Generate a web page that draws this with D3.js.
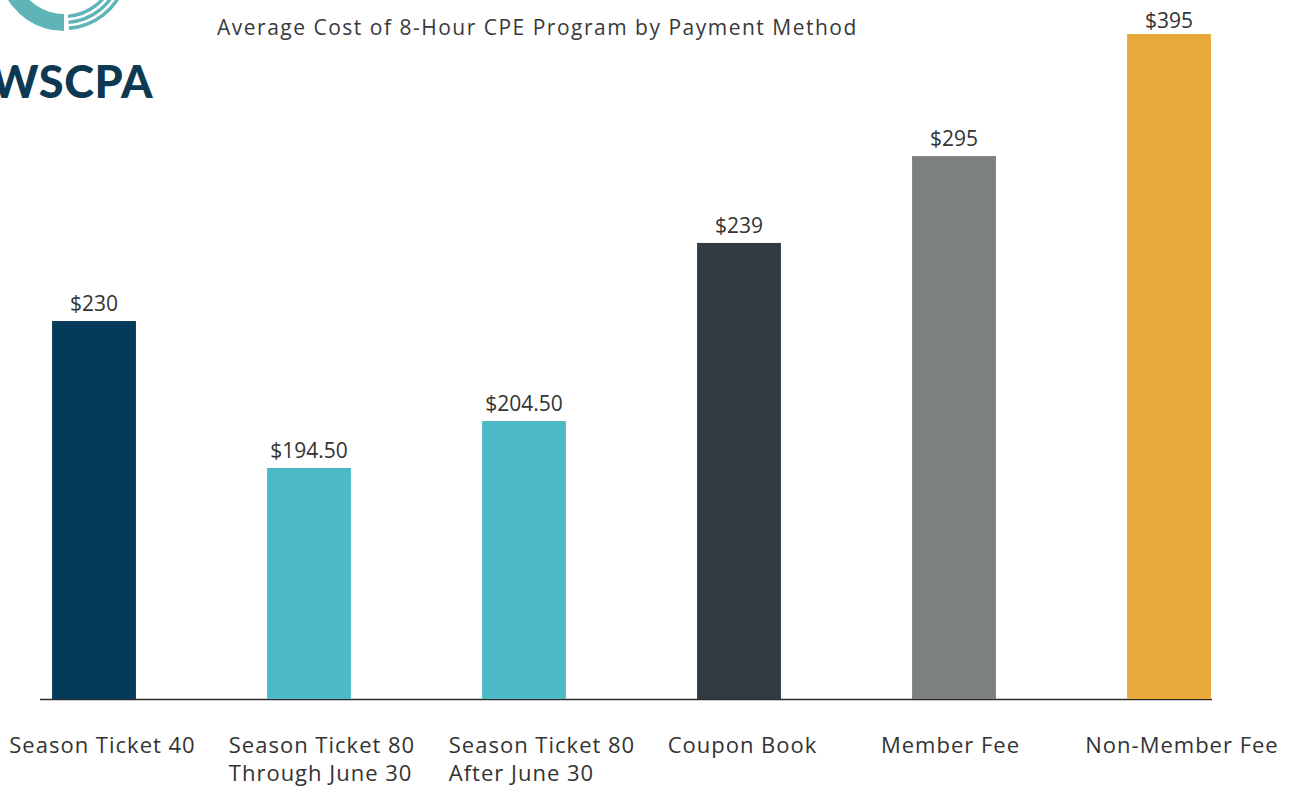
<!DOCTYPE html>
<html>
<head>
<meta charset="utf-8">
<script src="https://cdn.jsdelivr.net/npm/d3@7"></script>
<style>
  html, body { margin: 0; padding: 0; background: #fff; }
  svg { display: block; font-family: "Open Sans", Lato, sans-serif; }
</style>
</head>
<body>
<svg id="chart" width="1294" height="787"></svg>
<script>
// categories, each a list of label lines
const categories = [
  ['Season Ticket 40'],
  ['Season Ticket 80', 'Through June 30'],
  ['Season Ticket 80', 'After June 30'],
  ['Coupon Book'],
  ['Member Fee'],
  ['Non-Member Fee']
];
// the printed prices
const prices = [230, 194.5, 204.5, 239, 295, 395];
const priceLabels = ['$230', '$194.50', '$204.50', '$239', '$295', '$395'];
// bar heights as drawn in the source (the source axis is not proportional to the prices)
const drawnValues = [224.5, 137.2, 165.1, 270.9, 322.5, 395];
const colors = ['#043a5a', '#4bbac6', '#4bbac6', '#313b41', '#7c8180', '#e9a83a'];

const svg = d3.select('#chart');
const baseY = 699, topY = 34;

const x = d3.scaleBand()
  .domain(d3.range(categories.length))
  .range([-13.5, 1276.5])
  .paddingInner(0.61)
  .paddingOuter(0.305);

const y = d3.scaleLinear().domain([0, d3.max(drawnValues)]).range([baseY, topY]);

// logo
const logo = svg.append('g').attr('class', 'logo');
const cx = 64, cy = -35;
logo.append('path')
  .attr('transform', `translate(${cx},${cy})`)
  .attr('d', d3.arc()({ innerRadius: 49, outerRadius: 66, startAngle: Math.PI, endAngle: Math.PI * 1.75 }))
  .attr('fill', '#5fb4b8');
[51.5, 57.5, 63.5].forEach(r => {
  logo.append('path')
    .attr('transform', `translate(${cx},${cy})`)
    .attr('d', d3.arc()({ innerRadius: r - 1.7, outerRadius: r + 1.7, startAngle: Math.PI * 0.6, endAngle: Math.PI * 0.975 }))
    .attr('fill', '#5fb4b8');
});
logo.append('text')
  .attr('x', -9).attr('y', 98)
  .attr('font-family', 'Lato, sans-serif')
  .attr('font-weight', 900)
  .attr('font-size', 45)
  .attr('letter-spacing', 0.6)
  .attr('fill', '#0d3a52')
  .text('WSCPA');

// title
svg.append('text')
  .attr('x', 217).attr('y', 35)
  .attr('font-size', 21)
  .attr('letter-spacing', 1.5)
  .attr('fill', '#3a3a3a')
  .text('Average Cost of 8-Hour CPE Program by Payment Method');

// baseline
svg.append('line')
  .attr('x1', 40).attr('x2', 1212)
  .attr('y1', baseY + 0.5).attr('y2', baseY + 0.5)
  .attr('stroke', '#2b2b2b').attr('stroke-width', 1.5);

// bars
svg.append('g').selectAll('rect')
  .data(drawnValues)
  .join('rect')
  .attr('x', (d, i) => x(i))
  .attr('y', d => y(d))
  .attr('width', x.bandwidth())
  .attr('height', d => baseY - y(d))
  .attr('fill', (d, i) => colors[i]);

// value labels
svg.append('g').selectAll('text')
  .data(drawnValues)
  .join('text')
  .attr('x', (d, i) => x(i) + x.bandwidth() / 2)
  .attr('y', d => Math.max(28, y(d) - 10))
  .attr('text-anchor', 'middle')
  .attr('font-size', 21)
  .attr('fill', '#333')
  .text((d, i) => priceLabels[i]);

// category labels: first line centred under the bar, further lines left-aligned to it
const catOffset = [8.5, 13, 18, 3.5, -3.5, 13];
const cats = svg.append('g').selectAll('text')
  .data(categories)
  .join('text')
  .attr('font-size', 22)
  .attr('letter-spacing', 1)
  .attr('fill', '#333');
cats.each(function(lines, i) {
  const t = d3.select(this);
  lines.forEach((line, j) => {
    t.append('tspan').attr('y', 753 + j * 28).text(line);
  });
  const w = t.select('tspan').node().getComputedTextLength();
  const left = x(i) + x.bandwidth() / 2 + catOffset[i] - w / 2;
  t.selectAll('tspan').attr('x', left);
});
</script>
</body>
</html>
